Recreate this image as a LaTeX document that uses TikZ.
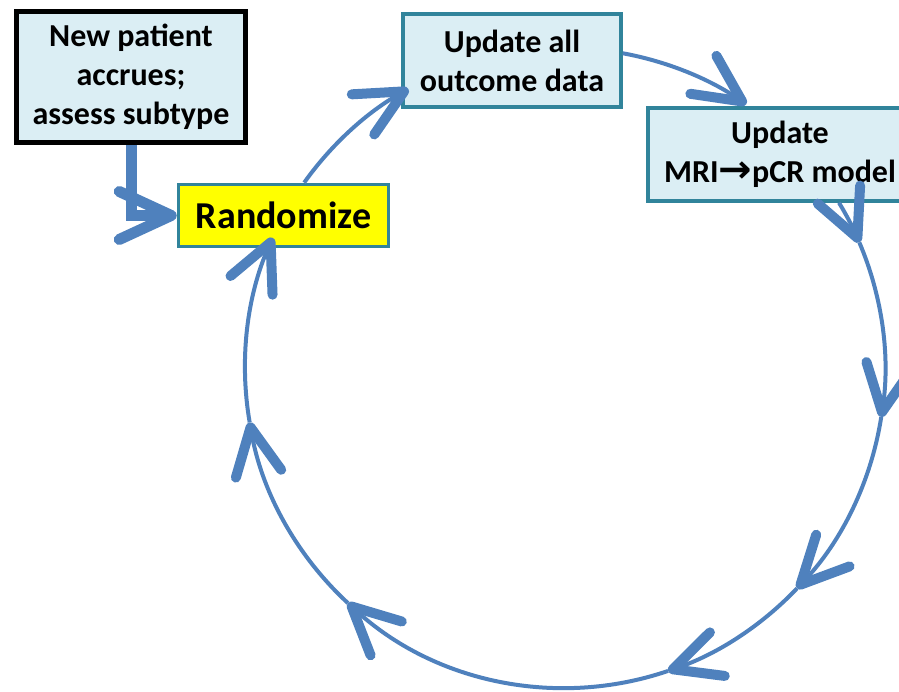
\documentclass[tikz,border=0pt]{standalone}
\usepackage{fontspec}
\usepackage{graphicx}
\setmainfont{Carlito}
\newfontfamily\symfont{DejaVu Sans}
\usetikzlibrary{arrows.meta,calc,backgrounds}
\definecolor{lblue}{HTML}{4F81BD}
\definecolor{boxfill}{HTML}{DBEEF4}
\definecolor{tealb}{HTML}{31849B}
\definecolor{yel}{HTML}{FFFF00}
\begin{document}
\begin{tikzpicture}[x=1pt,y=1pt,
  box/.style={draw=tealb, line width=4pt, fill=boxfill, align=center,
    font=\fontsize{32}{39}\selectfont\bfseries, inner sep=0pt},
  blackbox/.style={box, draw=black, line width=5pt},
  randbox/.style={box, fill=yel, line width=3.5pt,
    font=\fontsize{38}{45}\selectfont\bfseries},
  circ/.style={draw=lblue, line width=4pt,
    -{Straight Barb[length=47pt,width=46pt,line width=10pt,round]}},
  feed/.style={draw=lblue, line width=11pt,
    -{Straight Barb[length=52pt,width=48pt,line width=11pt,round]}}]
\useasboundingbox (0,0) rectangle (899,691);
\clip (0,0) rectangle (899,691);
% boxes
\node[blackbox, minimum width=229pt, minimum height=131pt] (newpat) at (131,614)
  {New patient\\accrues;\\assess subtype};
\node[randbox, minimum width=210pt, minimum height=62pt] (rand) at (283.5,475.5)
  {Randomize};
\node[box, minimum width=218pt, minimum height=93pt] (upd) at (512,630.5)
  {Update all\\outcome data};
\node[box, minimum width=264pt, minimum height=93pt] (mri) at (780,536.5)
  {Update\\MRI{\symfont\bfseries\scalebox{1.25}[1.2]{→}}pCR model};
% feed arrow (behind the boxes)
\begin{scope}[on background layer]
\draw[feed] (newpat.south) |- (rand.west);
\end{scope}
% cycle
\coordinate (c) at (565,323);
\coordinate (s1) at ($(c)+(144.6:320)$);
\coordinate (s2) at ($(c)+(79.6:320)$);
\coordinate (s3) at ($(c)+(31.1:320)$);
\coordinate (t3) at ($(c)+(23.1:320)$);
\coordinate (t4) at ($(c)+(-8.8:320)$);
\coordinate (t5) at ($(c)+(-43.5:320)$);
\coordinate (t6) at ($(c)+(-71.2:320)$);
\coordinate (t7) at ($(c)+(-132.7:320)$);
\coordinate (t8) at ($(c)+(-170.2:320)$);
\draw[circ] (s1) arc[start angle=144.6, end angle=119.3, radius=320];
\draw[circ] (s2) arc[start angle=79.6, end angle=55.5, radius=320];
\draw[circ] (s3) arc[start angle=31.1, end angle=23.1, radius=320];
\draw[circ] (t3) arc[start angle=23.1, end angle=-8.8, radius=320];
\draw[circ] (t4) arc[start angle=-8.8, end angle=-43.5, radius=320];
\draw[circ] (t5) arc[start angle=-43.5, end angle=-71.2, radius=320];
\draw[circ] (t6) arc[start angle=-71.2, end angle=-132.7, radius=320];
\draw[circ] (t7) arc[start angle=-132.7, end angle=-170.2, radius=320];
\draw[circ] (t8) arc[start angle=-170.2, end angle=-204, radius=320];
\end{tikzpicture}
\end{document}
